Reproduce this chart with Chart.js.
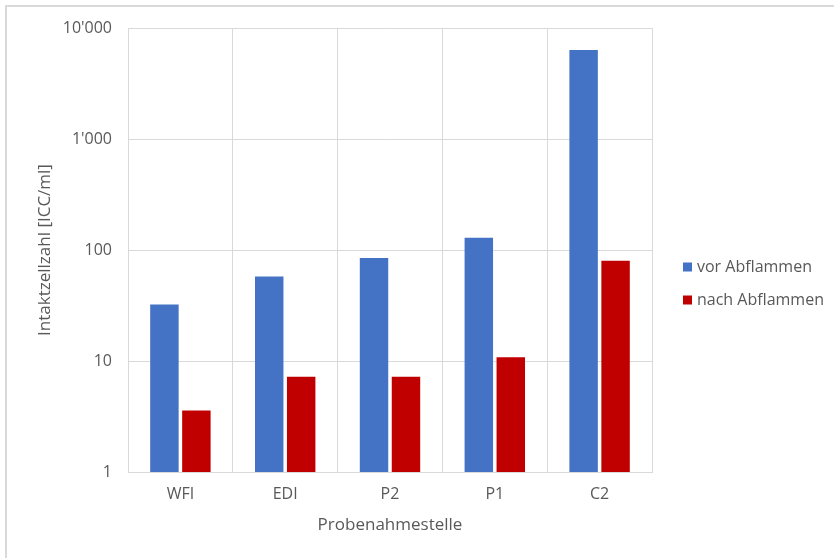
<!DOCTYPE html>
<html>
<head>
<meta charset="utf-8">
<script src="https://cdn.jsdelivr.net/npm/chart.js@4.4.1/dist/chart.umd.min.js"></script>
<style>
  html, body { margin: 0; padding: 0; background: #ffffff; }
  #wrap { position: relative; width: 834px; height: 558px; }
  #frame { position: absolute; left: 5px; top: 5px; width: 829px; height: 553px;
           border-top: 2px solid #d9d9d9; border-left: 2px solid #d9d9d9; box-sizing: border-box; }
  canvas { position: absolute; left: 0; top: 0; }
</style>
</head>
<body>
<div id="wrap">
  <div id="frame"></div>
  <canvas id="c" width="834" height="558"></canvas>
</div>
<script>
const categories = ["WFI", "EDI", "P2", "P1", "C2"];
const seriesNames = ["vor Abflammen", "nach Abflammen"];
const vorAbflammen = [32.3, 57.8, 84.5, 129, 6340];
const nachAbflammen = [3.58, 7.2, 7.2, 10.8, 80];
const yTickValues = [1, 10, 100, 1000, 10000];
const seriesColors = ["#4472c4", "#c00000"];
const yTitle = "Intaktzellzahl [ICC/ml]";
const xTitle = "Probenahmestelle";

const fontFamily = "'Open Sans', 'Liberation Sans', sans-serif";
const textColor = "#595959";
const gridColor = "#d9d9d9";

const customLegend = {
  id: 'customLegend',
  afterDraw(chart) {
    const ctx = chart.ctx;
    ctx.save();
    ctx.font = "16px " + fontFamily;
    ctx.textBaseline = "middle";
    ctx.textAlign = "left";
    const ys = [267, 300];
    chart.data.datasets.forEach((ds, i) => {
      ctx.fillStyle = ds.backgroundColor;
      ctx.fillRect(683, ys[i] - 4.5, 9, 9);
      ctx.fillStyle = textColor;
      ctx.fillText(ds.label, 697, ys[i]);
    });
    ctx.restore();
  }
};

new Chart(document.getElementById('c'), {
  type: 'bar',
  data: {
    labels: categories,
    datasets: [
      { label: seriesNames[0], data: vorAbflammen, backgroundColor: seriesColors[0] },
      { label: seriesNames[1], data: nachAbflammen, backgroundColor: seriesColors[1] }
    ]
  },
  plugins: [customLegend],
  options: {
    responsive: false,
    animation: false,
    devicePixelRatio: 1,
    layout: { padding: { left: 0, right: 182, top: 28, bottom: 0 } },
    datasets: { bar: { categoryPercentage: 0.61, barPercentage: 0.89 } },
    plugins: { legend: { display: false }, tooltip: { enabled: false } },
    scales: {
      x: {
        grid: { color: gridColor, lineWidth: 1, drawTicks: false, offset: true },
        border: { color: gridColor, width: 1 },
        ticks: { color: textColor, font: { family: fontFamily, size: 16 }, padding: 13 },
        title: { display: true, text: xTitle, color: textColor,
                 font: { family: fontFamily, size: 17 }, padding: { top: 0, bottom: 23 } },
        afterFit(scale) { scale.height = 86; }
      },
      y: {
        type: 'logarithmic',
        min: 1,
        max: 10000,
        grid: { color: gridColor, lineWidth: 1, drawTicks: false },
        border: { color: gridColor, width: 1 },
        afterBuildTicks(scale) { scale.ticks = yTickValues.map(v => ({ value: v })); },
        ticks: {
          color: textColor, font: { family: fontFamily, size: 16 }, padding: 16,
          callback(v) { return String(v).replace(/\B(?=(\d{3})+(?!\d))/g, "'"); }
        },
        title: { display: true, text: yTitle, color: textColor,
                 font: { family: fontFamily, size: 17 }, padding: { top: 35, bottom: 0 } },
        afterFit(scale) { scale.width = 128; }
      }
    }
  }
});
</script>
</body>
</html>
